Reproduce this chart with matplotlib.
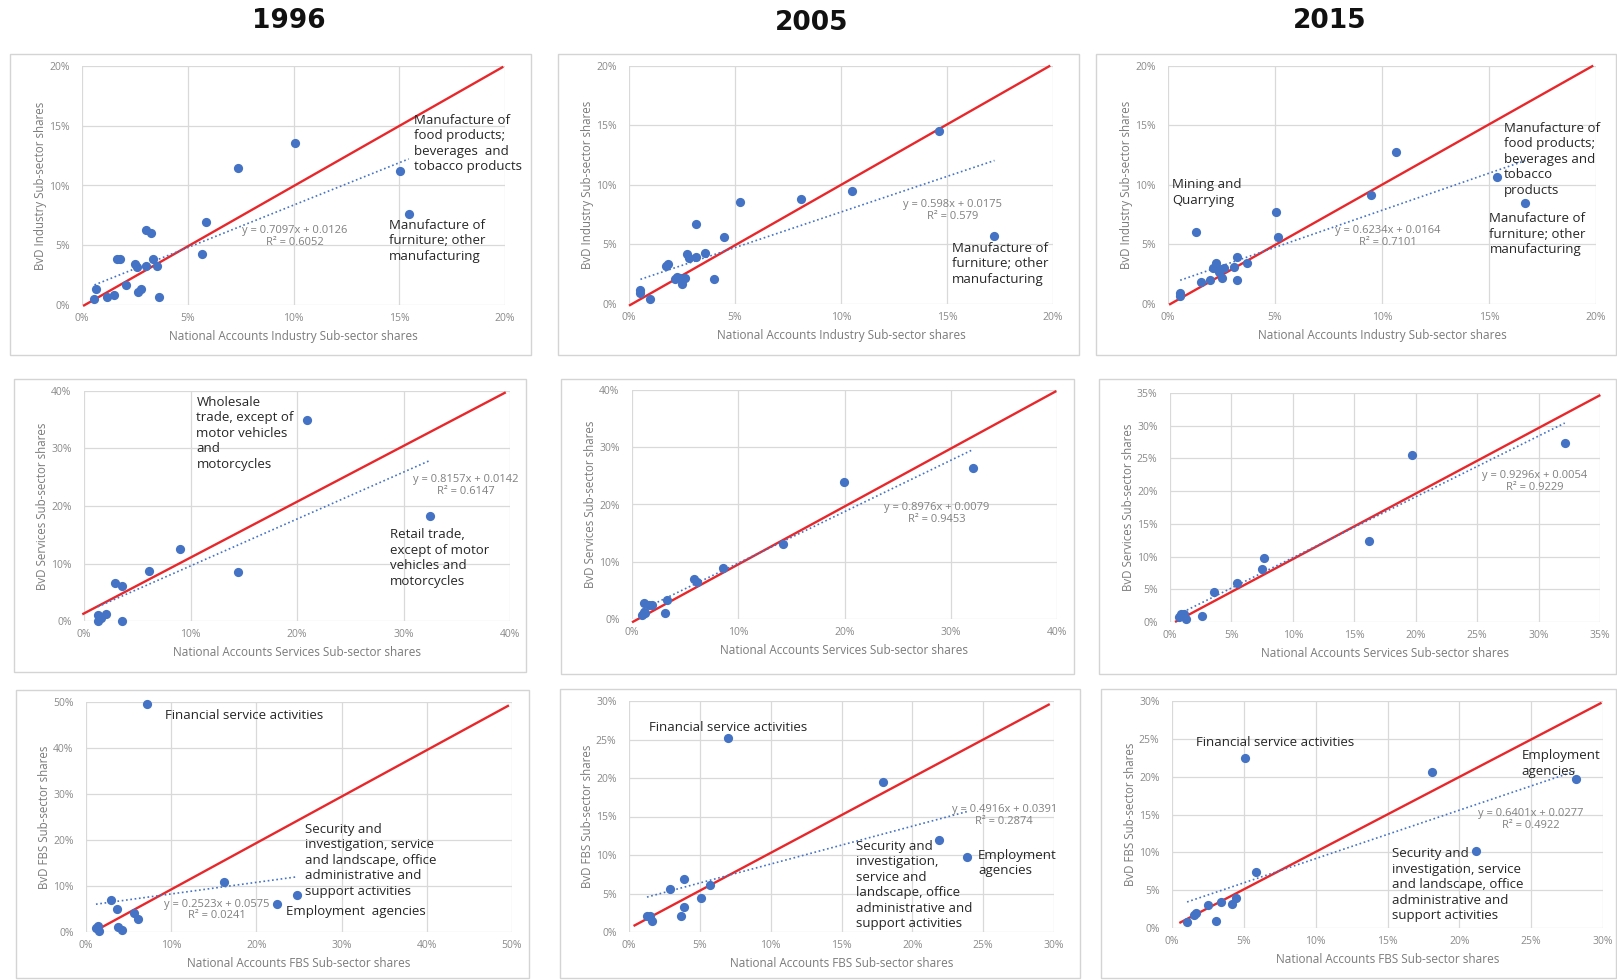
import numpy as np
import matplotlib
matplotlib.use("Agg")
import matplotlib.pyplot as plt
from matplotlib.patches import Rectangle
from matplotlib.ticker import MultipleLocator, FuncFormatter

plt.rcParams['font.family'] = ['Open Sans', 'DejaVu Sans']

W, H = 1617, 980

years = ["1996", "2005", "2015"]

# ---------------- data (percent units) ----------------
# Industry
ind96_x = [0.59, 0.68, 1.2, 1.51, 1.67, 1.8, 2.1, 2.5, 2.62, 2.63, 2.81, 3.02, 3.25, 3.02, 3.35, 3.54, 3.64,
           5.69, 5.87, 7.38, 10.07, 15.04, 15.45]
ind96_y = [0.47, 1.37, 0.67, 0.81, 3.88, 3.88, 1.70, 3.46, 3.15, 1.12, 1.37, 6.25, 6.03, 3.26, 3.88, 3.26, 0.67,
           4.24, 6.95, 11.46, 13.53, 11.21, 7.64]
ind05_x = [0.54, 0.54, 0.98, 1.74, 1.84, 2.16, 2.28, 2.39, 2.49, 2.62, 2.72, 2.81, 3.17, 3.17, 3.59, 4.03, 4.47,
           5.24, 8.11, 10.54, 14.6, 17.24]
ind05_y = [1.15, 0.92, 0.39, 3.16, 3.36, 2.10, 2.27, 2.15, 1.68, 2.21, 4.22, 3.83, 3.94, 6.74, 4.28, 2.10, 5.62,
           8.53, 8.81, 9.51, 14.55, 5.71]
ind15_x = [0.57, 0.57, 1.29, 1.54, 1.98, 2.11, 2.25, 2.29, 2.39, 2.51, 2.61, 3.08, 3.22, 3.22, 3.69, 5.03, 5.12,
           9.49, 10.67, 15.37, 16.69]
ind15_y = [0.9, 0.64, 6.07, 1.82, 2.04, 3.05, 3.44, 3.02, 2.66, 2.15, 3.05, 3.13, 3.94, 2.01, 3.47, 7.69, 5.65,
           9.12, 12.78, 10.69, 8.45]
# Services
srv96_x = [1.3, 1.36, 1.55, 2.04, 2.95, 3.56, 3.56, 6.06, 9.04, 14.45, 20.95, 32.49]
srv96_y = [1.04, 0.0, 0.58, 1.16, 6.67, 6.14, 0.06, 8.7, 12.46, 8.52, 34.96, 18.2]
srv05_x = [0.94, 1.1, 1.17, 1.26, 1.62, 1.88, 3.11, 3.27, 5.87, 6.13, 8.59, 14.23, 19.94, 32.06]
srv05_y = [0.76, 1.17, 2.8, 0.99, 2.39, 2.39, 1.05, 3.39, 7.07, 6.42, 8.88, 13.14, 24.0, 26.34]
srv15_x = [0.74, 0.93, 1.12, 1.29, 2.63, 3.59, 5.45, 7.5, 7.64, 16.23, 19.7, 32.13]
srv15_y = [0.76, 1.27, 1.17, 0.46, 0.86, 4.58, 5.95, 8.09, 9.82, 12.31, 25.53, 27.37]
# FBS
fbs96_x = [1.17, 1.41, 1.54, 2.99, 3.6, 3.8, 4.24, 5.62, 6.1, 7.15, 16.17, 22.39, 24.82]
fbs96_y = [0.94, 1.31, 0.22, 6.98, 5.09, 1.09, 0.51, 4.22, 2.91, 49.64, 10.97, 6.1, 8.14]
fbs05_x = [1.27, 1.51, 1.61, 2.92, 3.68, 3.87, 3.87, 5.06, 5.72, 6.96, 17.92, 21.89, 23.89]
fbs05_y = [2.04, 2.04, 1.43, 5.64, 2.04, 6.89, 3.29, 4.46, 6.07, 25.23, 19.42, 11.92, 9.75]
fbs15_x = [1.05, 1.54, 1.68, 2.48, 3.08, 3.43, 4.16, 4.42, 5.09, 5.86, 18.08, 21.19, 28.13]
fbs15_y = [0.79, 1.68, 2.03, 3.0, 0.93, 3.44, 3.13, 3.97, 22.45, 7.41, 20.64, 10.15, 19.63]

# Linear trend (slope, intercept as fraction, R^2)
ind96_fit = (0.7097, 0.0126, 0.6052)
ind05_fit = (0.598, 0.0175, 0.579)
ind15_fit = (0.6234, 0.0164, 0.7101)
srv96_fit = (0.8157, 0.0142, 0.6147)
srv05_fit = (0.8976, 0.0079, 0.9453)
srv15_fit = (0.9296, 0.0054, 0.9229)
fbs96_fit = (0.2523, 0.0575, 0.0241)
fbs05_fit = (0.4916, 0.0391, 0.2874)
fbs15_fit = (0.6401, 0.0277, 0.4922)

# hand-drawn 45-degree reference line endpoints (x0, y0, x1, y1) in percent
ind96_ref = (0.05, -0.08, 19.92, 19.94)
ind05_ref = (0.0, -0.14, 19.87, 20.03)
ind15_ref = (0.05, -0.06, 19.87, 20.03)
srv96_ref = (-0.16, 1.16, 39.6, 39.77)
srv05_ref = (0.0, -0.58, 39.94, 39.82)
srv15_ref = (0.41, 0.0, 35.03, 34.69)
fbs96_ref = (1.41, 0.58, 49.64, 49.27)
fbs05_ref = (0.32, 0.78, 29.7, 29.6)
fbs15_ref = (0.51, 0.66, 29.9, 29.77)

# axis ranges / ticks
ind_lim, ind_step = 20, 5
srv_lims = [40, 40, 35]
srv_steps = [10, 10, 5]
fbs_lims = [50, 30, 30]
fbs_steps = [10, 5, 5]

row_xlabels = ["National Accounts Industry Sub-sector shares",
               "National Accounts Services Sub-sector shares",
               "National Accounts FBS Sub-sector shares"]
row_ylabels = ["BvD Industry Sub-sector shares",
               "BvD Services Sub-sector shares",
               "BvD FBS Sub-sector shares"]

# ---------------- layout ----------------
# axes rects in pixels (left, top, right, bottom)
axes_px = [
    [(82, 66, 505, 305), (629, 66, 1053, 304), (1168, 66, 1596, 304)],
    [(84, 391, 510, 621), (632, 390, 1057, 619), (1170, 393, 1600, 622)],
    [(86, 702, 512, 932), (629, 701, 1054, 932), (1172, 701, 1603, 928)],
]
boxes_px = [
    [(10, 54, 531, 355), (558, 54, 1079, 355), (1096, 54, 1616, 355)],
    [(14, 379, 526, 672), (561, 379, 1074, 674), (1099, 379, 1616, 674)],
    [(16, 690, 529, 978), (560, 689, 1080, 978), (1101, 689, 1616, 978)],
]
title_px = [(289, 21), (812, 23), (1330, 21)]

eq_pos = [
    [(10.07, 5.76), (15.28, 7.88), (10.26, 5.68)],
    [(35.85, 23.57), (28.65, 18.48), (29.67, 21.47)],
    [(15.36, 4.8), (26.49, 15.1), (24.98, 14.3)],
]

# annotations: (text, x, cap-top y)
notes = [
    [
        [("Manufacture of\nfood products;\nbeverages  and\ntobacco products", 15.7, 15.9),
         ("Manufacture of\nfurniture; other\nmanufacturing", 14.52, 7.11)],
        [("Manufacture of\nfurniture; other\nmanufacturing", 15.24, 5.12)],
        [("Mining and\nQuarrying", 0.19, 10.43),
         ("Manufacture of\nfood products;\nbeverages and\ntobacco\nproducts", 15.68, 15.19),
         ("Manufacture of\nfurniture; other\nmanufacturing", 15.02, 7.58)],
    ],
    [
        [("Wholesale\ntrade, except of\nmotor vehicles\nand\nmotorcycles", 10.56, 38.9),
         ("Retail trade,\nexcept of motor\nvehicles and\nmotorcycles", 28.76, 15.9)],
        [],
        [],
    ],
    [
        [("Financial service activities", 9.3, 48.2),
         ("Security and\ninvestigation, service\nand landscape, office\nadministrative and\nsupport activities", 25.67, 23.4),
         ("Employment  agencies", 23.44, 5.67)],
        [("Financial service activities", 1.39, 27.18),
         ("Security and\ninvestigation,\nservice and\nlandscape, office\nadministrative and\nsupport activities", 16.0, 11.79),
         ("Employment\nagencies", 24.64, 10.62)],
        [("Financial service activities", 1.64, 25.14),
         ("Employment\nagencies", 24.35, 23.42),
         ("Security and\ninvestigation, service\nand landscape, office\nadministrative and\nsupport activities", 15.3, 10.5)],
    ],
]

data = [
    [(ind96_x, ind96_y, ind96_fit, ind96_ref), (ind05_x, ind05_y, ind05_fit, ind05_ref), (ind15_x, ind15_y, ind15_fit, ind15_ref)],
    [(srv96_x, srv96_y, srv96_fit, srv96_ref), (srv05_x, srv05_y, srv05_fit, srv05_ref), (srv15_x, srv15_y, srv15_fit, srv15_ref)],
    [(fbs96_x, fbs96_y, fbs96_fit, fbs96_ref), (fbs05_x, fbs05_y, fbs05_fit, fbs05_ref), (fbs15_x, fbs15_y, fbs15_fit, fbs15_ref)],
]
lims = [[(ind_lim, ind_step)] * 3,
        list(zip(srv_lims, srv_steps)),
        list(zip(fbs_lims, fbs_steps))]

BLUE = '#4472c4'
RED = '#e8272b'
GRID = '#d9d9d9'
TICK = '#8a8a8a'
LABEL = '#7a7a7a'

fig = plt.figure(figsize=(W / 100, H / 100), dpi=100)
fig.patch.set_facecolor('white')

for (x, y), t in zip(title_px, years):
    fig.text(x / W, 1 - y / H, t, ha='center', va='center', fontsize=19,
             fontweight='bold', family='DejaVu Sans', color='#111111')

pct = FuncFormatter(lambda v, p: f"{v:.0f}%")

for r in range(3):
    for c in range(3):
        bl, bt, br, bb = boxes_px[r][c]
        fig.patches.append(Rectangle((bl / W, 1 - bb / H), (br - bl) / W, (bb - bt) / H,
                                     transform=fig.transFigure, fill=False,
                                     edgecolor='#d4d4d4', lw=1.0, zorder=0))
        l, t, rr, b = axes_px[r][c]
        ax = fig.add_axes([l / W, 1 - b / H, (rr - l) / W, (b - t) / H])
        lim, step = lims[r][c]
        ax.set_xlim(0, lim)
        ax.set_ylim(0, lim)
        ax.xaxis.set_major_locator(MultipleLocator(step))
        ax.yaxis.set_major_locator(MultipleLocator(step))
        ax.xaxis.set_major_formatter(pct)
        ax.yaxis.set_major_formatter(pct)
        ax.grid(True, color=GRID, lw=0.9)
        ax.set_axisbelow(True)
        for s in ax.spines.values():
            s.set_visible(False)
        ax.tick_params(length=0, labelsize=7.5, colors=TICK)
        ax.tick_params(axis='x', pad=6)
        ax.tick_params(axis='y', pad=9)
        ax.set_xlabel(row_xlabels[r], fontsize=8.5, color=LABEL, labelpad=4)
        ax.set_ylabel(row_ylabels[r], fontsize=8.3, color=LABEL, labelpad=1.5)

        xs, ys, fit, ref = data[r][c]
        a, b0, r2 = fit
        ax.plot([ref[0], ref[2]], [ref[1], ref[3]], color=RED, lw=1.7, zorder=2,
                clip_on=False, solid_capstyle='butt')
        xr = np.array([min(xs), max(xs)])
        ax.plot(xr, a * xr + 100 * b0, color=BLUE, lw=1.2, ls=(0, (1, 1.6)), zorder=2)
        ax.scatter(xs, ys, s=44, color=BLUE, zorder=3, clip_on=False, linewidths=0)

        ex, ey = eq_pos[r][c]
        ax.text(ex, ey, f"y = {a:g}x + {b0:g}\nR\u00b2 = {r2:g}", ha='center', va='center',
                fontsize=8.0, color='#808080', linespacing=1.1, multialignment='center')

        for txt, nx, ny in notes[r][c]:
            ax.annotate(txt, (nx, ny), xytext=(0, 1), textcoords='offset points',
                        ha='left', va='top', fontsize=9.5, color='#262626', linespacing=1.25,
                        annotation_clip=False)

fig.savefig('out.png', dpi=100, facecolor='white')
